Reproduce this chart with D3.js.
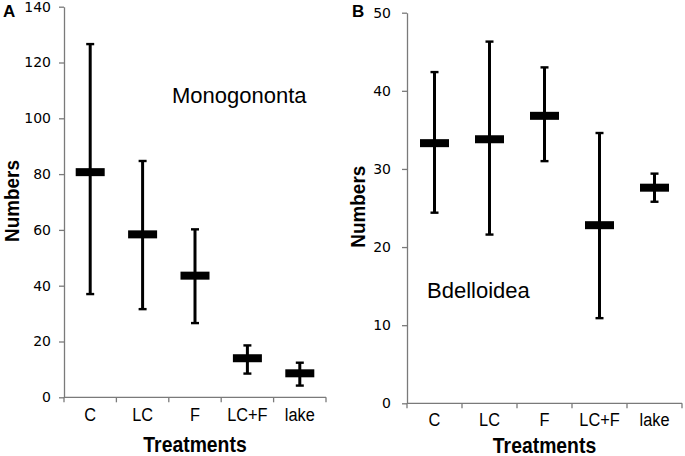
<!DOCTYPE html>
<html>
<head>
<meta charset="utf-8">
<script src="https://cdn.jsdelivr.net/npm/d3@7"></script>
<style>
  html, body { margin: 0; padding: 0; background: #fff; }
  svg { display: block; }
  .ytick text { font-family: "DejaVu Sans", Verdana, sans-serif; font-size: 14px; fill: #000; }
</style>
</head>
<body>
<svg id="chart" width="685" height="456"></svg>
<script>
// ---- Data ----
const categories = ["C", "LC", "F", "LC+F", "lake"];

const monoMean = [80.7, 58.4, 43.6, 14.0, 8.6];
const monoLow  = [37.0, 31.6, 26.6, 8.5, 4.2];
const monoHigh = [126.6, 84.7, 60.2, 18.6, 12.4];
const monoTicks = [0, 20, 40, 60, 80, 100, 120, 140];

const bdelMean = [33.3, 33.8, 36.8, 22.8, 27.6];
const bdelLow  = [24.4, 21.6, 31.0, 10.9, 25.8];
const bdelHigh = [42.4, 46.3, 43.0, 34.6, 29.4];
const bdelTicks = [0, 10, 20, 30, 40, 50];

const svg = d3.select("#chart");
const axisColor = "#7a7a7a";

function scaledText(g, x, y, txt, opts) {
  const t = g.append("g").attr("transform",
    `translate(${x},${y}) rotate(${opts.rotate || 0}) scale(${opts.sx || 1},${opts.sy || 1})`);
  t.append("text")
    .attr("x", 0).attr("y", 0)
    .attr("text-anchor", opts.anchor || "start")
    .style("font-family", opts.family || "'Liberation Sans', Arial, sans-serif")
    .style("font-size", opts.size + "px")
    .style("font-weight", opts.weight || "normal")
    .attr("fill", "#000")
    .text(txt);
}

function panel(cfg) {
  const g = svg.append("g");
  const x = d3.scaleBand().domain(categories).range([cfg.x0, cfg.x1]);
  const y = d3.scaleLinear().domain([0, cfg.ymax]).range([cfg.y0, cfg.y1]);

  // y axis
  const ya = g.append("g").attr("class", "ytick").attr("transform", `translate(${cfg.x0},0)`)
    .call(d3.axisLeft(y).tickValues(cfg.ticks).tickSize(5).tickSizeOuter(0).tickPadding(cfg.tickPad));
  ya.attr("font-size", null).attr("font-family", null);
  ya.select(".domain").attr("stroke", axisColor).attr("stroke-width", 1.3);
  ya.selectAll(".tick line").attr("stroke", axisColor).attr("stroke-width", 1.3);
  ya.selectAll(".tick text").attr("fill", "#000");

  // x axis: line + boundary ticks + labels
  const bounds = categories.map(c => x(c)).concat([x.range()[1]]);
  g.append("line")
    .attr("x1", cfg.x0).attr("x2", x.range()[1])
    .attr("y1", y(0)).attr("y2", y(0))
    .attr("stroke", axisColor).attr("stroke-width", 1.3);
  g.selectAll(".xt").data(bounds).enter().append("line")
    .attr("x1", d => d).attr("x2", d => d)
    .attr("y1", y(0)).attr("y2", y(0) + 5)
    .attr("stroke", axisColor).attr("stroke-width", 1.3);
  categories.forEach(c => {
    scaledText(g, x(c) + x.bandwidth() / 2, y(0) + cfg.labelDy, c,
      { size: 19, sx: 0.86, anchor: "middle" });
  });

  // error bars
  const cx = c => x(c) + x.bandwidth() / 2;
  categories.forEach((c, i) => {
    g.append("line")
      .attr("x1", cx(c)).attr("x2", cx(c))
      .attr("y1", y(cfg.low[i])).attr("y2", y(cfg.high[i]))
      .attr("stroke", "#000").attr("stroke-width", 3);
    [cfg.low[i], cfg.high[i]].forEach(v => {
      g.append("line")
        .attr("x1", cx(c) - 4).attr("x2", cx(c) + 4)
        .attr("y1", y(v)).attr("y2", y(v))
        .attr("stroke", "#000").attr("stroke-width", 2.4);
    });
    g.append("rect")
      .attr("x", cx(c) - 14.5).attr("width", 29)
      .attr("y", y(cfg.mean[i]) - 4).attr("height", 8)
      .attr("fill", "#000");
  });

  // axis titles
  scaledText(g, (cfg.x0 + x.range()[1]) / 2, cfg.titleY, "Treatments",
    { size: 22, weight: "bold", sx: 0.88, anchor: "middle" });
  scaledText(g, cfg.numX, cfg.numY, "Numbers",
    { size: 21, weight: "bold", sx: 0.9, anchor: "middle", rotate: -90 });

  // panel letter
  scaledText(g, cfg.letterX, 16.5, cfg.letter, { size: 17, weight: "bold" });

  // series name
  scaledText(g, cfg.nameX, cfg.nameY, cfg.name, { size: 22 });
}

panel({
  x0: 64, x1: 326, y0: 397.3, y1: 6.7, ymax: 140, ticks: monoTicks, tickPad: 8,
  mean: monoMean, low: monoLow, high: monoHigh,
  labelDy: 24, titleY: 451.5, numX: 18.5, numY: 201,
  letter: "A", letterX: 3, name: "Monogononta", nameX: 172, nameY: 102.7
});

panel({
  x0: 407, x1: 682, y0: 403.3, y1: 12.7, ymax: 50, ticks: bdelTicks, tickPad: 11,
  mean: bdelMean, low: bdelLow, high: bdelHigh,
  labelDy: 23, titleY: 453, numX: 365, numY: 206.7,
  letter: "B", letterX: 352, name: "Bdelloidea", nameX: 427, nameY: 298.3
});
</script>
</body>
</html>
